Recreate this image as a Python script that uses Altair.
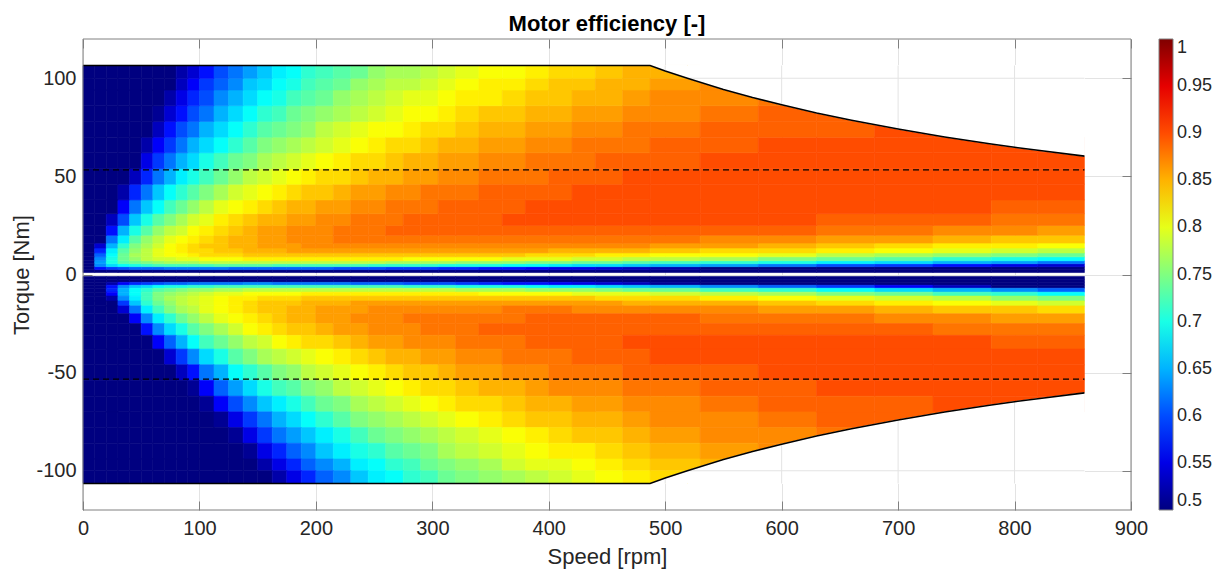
import altair as alt
import pandas as pd

# ---------------- data ----------------
# speed band edges [rpm] of the efficiency grid
SPEED_EDGES = [0, 10, 20, 30, 40, 50, 60, 70, 80, 90, 100,
               112.5, 125, 137.5, 150, 162.5, 175, 187.5, 200,
               215, 230, 245, 260, 275, 290, 305, 320,
               340, 360, 380, 400, 420, 440, 463.5, 487,
               530, 580, 630, 680, 730, 780, 820, 860]
# torque band edges [Nm] (magnitude; same bands for motoring and generating)
TORQUE_EDGES = [1, 2.5, 4, 5.5, 7, 9, 11, 13.5, 16, 20, 25, 31, 38, 46, 54,
                62, 70, 78, 86, 94, 100, 106.5]

N = None
# efficiency [%] for positive torque: one row per torque band (low -> high),
# one value per speed band (low -> high); None = outside the operating envelope
EFF_MOTOR = [
    [50, 50, 50, 50, 50, 50, 50, 50, 50, 50, 50, 50, 50, 50, 50, 50, 50, 50, 50, 50, 50, 50, 50, 50, 50, 50, 50, 50, 50, 50, 50, 50, 50, 50, 50, 50, 50, 50, 50, 50, 50, 50],
    [50, 57, 59, 60, 61, 61, 61, 62, 62, 62, 62, 62, 61, 61, 61, 61, 61, 61, 61, 60, 60, 60, 59, 59, 59, 58, 58, 57, 57, 56, 55, 55, 54, 53, 52, 50, 50, 50, 50, 50, 50, 50],
    [50, 63, 67, 69, 70, 71, 72, 72, 72, 72, 72, 73, 73, 73, 73, 72, 72, 72, 72, 72, 72, 71, 71, 71, 71, 70, 70, 70, 69, 69, 68, 67, 67, 66, 65, 64, 62, 60, 59, 57, 55, 54],
    [50, 64, 70, 73, 74, 75, 76, 77, 77, 77, 78, 78, 78, 78, 78, 78, 78, 78, 78, 78, 78, 78, 77, 77, 77, 77, 76, 76, 76, 75, 75, 74, 74, 73, 72, 71, 70, 68, 67, 65, 64, 62],
    [50, 63, 70, 74, 76, 78, 79, 79, 80, 80, 81, 81, 81, 82, 82, 82, 82, 82, 82, 82, 82, 82, 82, 81, 81, 81, 81, 81, 80, 80, 80, 79, 79, 78, 78, 77, 75, 74, 73, 71, 70, 69],
    [50, 61, 69, 74, 77, 78, 80, 81, 81, 82, 83, 83, 83, 84, 84, 84, 84, 84, 84, 84, 84, 84, 84, 84, 84, 84, 84, 84, 84, 83, 83, 83, 82, 82, 81, 81, 80, 78, 77, 76, 75, 74],
    [50, 58, 68, 73, 76, 78, 80, 81, 82, 83, 83, 84, 84, 85, 85, 85, 86, 86, 86, 86, 86, 86, 86, 86, 86, 86, 86, 86, 86, 86, 85, 85, 85, 85, 84, 83, 83, 82, 81, 80, 79, 78],
    [50, 54, 65, 71, 75, 77, 79, 81, 82, 83, 84, 84, 85, 85, 86, 86, 86, 87, 87, 87, 87, 87, 87, 87, 87, 87, 87, 87, 87, 87, 87, 87, 87, 87, 86, 86, 85, 84, 83, 82, 82, 81],
    [50, 50, 62, 68, 73, 76, 78, 80, 81, 82, 83, 84, 85, 85, 86, 86, 87, 87, 87, 88, 88, 88, 88, 88, 88, 88, 88, 88, 88, 88, 88, 88, 88, 88, 88, 87, 87, 86, 86, 85, 84, 84],
    [50, 50, 57, 65, 70, 73, 76, 78, 79, 81, 82, 83, 84, 85, 86, 86, 87, 87, 87, 88, 88, 88, 89, 89, 89, 89, 89, 89, 89, 89, 89, 89, 89, 89, 89, 89, 89, 88, 88, 87, 87, 86],
    [50, 50, 53, 60, 66, 70, 73, 75, 77, 79, 80, 82, 83, 84, 85, 85, 86, 86, 87, 87, 88, 88, 88, 89, 89, 89, 89, 89, 90, 90, 90, 90, 90, 90, 90, 90, 90, 89, 89, 89, 88, 88],
    [50, 50, 50, 56, 62, 66, 69, 72, 74, 76, 78, 80, 81, 82, 83, 84, 85, 85, 86, 86, 87, 87, 88, 88, 88, 89, 89, 89, 89, 90, 90, 90, 90, 90, 90, 90, 90, 90, 90, 90, 89, 89],
    [50, 50, 50, 52, 58, 62, 66, 69, 71, 73, 75, 77, 79, 80, 81, 82, 83, 84, 84, 85, 86, 86, 87, 87, 88, 88, 88, 89, 89, 89, 89, 90, 90, 90, 90, 90, 90, 90, 90, 90, 90, 90],
    [50, 50, 50, 50, 53, 58, 62, 65, 68, 70, 72, 74, 76, 78, 79, 80, 81, 82, 83, 83, 84, 85, 85, 86, 86, 87, 87, 88, 88, 88, 89, 89, 89, 90, 90, 90, 90, 90, 90, 90, 90, 90],
    [50, 50, 50, 50, 50, 55, 59, 62, 65, 67, 70, 72, 74, 75, 77, 78, 79, 80, 81, 82, 83, 83, 84, 85, 85, 86, 86, 87, 87, 88, 88, 88, 89, 89, 89, 90, 90, 90, 90, 90, 90, 90],
    [50, 50, 50, 50, 50, 52, 56, 59, 62, 65, 67, 69, 71, 73, 75, 76, 77, 78, 79, 80, 81, 82, 83, 83, 84, 85, 85, 86, 86, 87, 87, 88, 88, 88, 89, 89, 90, 90, 90, 90, 90, 90],
    [50, 50, 50, 50, 50, 50, 53, 57, 60, 62, 65, 67, 69, 71, 73, 74, 75, 76, 78, 79, 80, 81, 81, 82, 83, 83, 84, 85, 85, 86, 86, 87, 87, 88, 88, 89, 89, 89, 90, 90, N, N],
    [50, 50, 50, 50, 50, 50, 51, 54, 57, 60, 62, 65, 67, 69, 71, 72, 74, 75, 76, 77, 78, 79, 80, 81, 81, 82, 83, 84, 84, 85, 85, 86, 86, 87, 87, 88, 89, 89, N, N, N, N],
    [50, 50, 50, 50, 50, 50, 50, 52, 55, 58, 60, 63, 65, 67, 69, 70, 72, 73, 74, 76, 77, 78, 79, 80, 80, 81, 82, 82, 83, 84, 84, 85, 85, 86, 87, 87, 88, N, N, N, N, N],
    [50, 50, 50, 50, 50, 50, 50, 50, 53, 56, 59, 61, 63, 66, 67, 69, 70, 72, 73, 74, 76, 77, 78, 78, 79, 80, 81, 82, 82, 83, 84, 84, 85, 85, 86, 87, N, N, N, N, N, N],
    [50, 50, 50, 50, 50, 50, 50, 50, 52, 54, 57, 60, 62, 64, 66, 68, 69, 71, 72, 73, 74, 76, 77, 77, 78, 79, 80, 81, 81, 82, 83, 83, 84, 85, 85, N, N, N, N, N, N, N],
]

# efficiency [%] for negative torque (generating), same layout, |T| low -> high
EFF_GENERATOR = [
    [50, 50, 50, 50, 50, 50, 50, 50, 50, 50, 50, 50, 50, 50, 50, 50, 50, 50, 50, 50, 50, 50, 50, 50, 50, 50, 50, 50, 50, 50, 50, 50, 50, 50, 50, 50, 50, 50, 50, 50, 50, 50],
    [50, 50, 50, 50, 50, 50, 50, 50, 50, 50, 50, 50, 50, 50, 50, 50, 50, 50, 50, 50, 50, 50, 50, 50, 50, 50, 50, 50, 50, 50, 50, 50, 50, 50, 50, 50, 50, 50, 50, 50, 50, 50],
    [50, 50, 52, 56, 58, 59, 60, 61, 61, 62, 62, 62, 62, 63, 63, 62, 62, 62, 62, 62, 61, 61, 61, 60, 60, 60, 59, 58, 57, 57, 56, 55, 54, 53, 51, 50, 50, 50, 50, 50, 50, 50],
    [50, 50, 57, 63, 66, 67, 69, 70, 70, 71, 71, 72, 72, 72, 72, 72, 72, 72, 72, 72, 72, 72, 72, 71, 71, 71, 70, 70, 70, 69, 68, 68, 67, 66, 65, 63, 61, 59, 56, 53, 50, 50],
    [50, 50, 58, 65, 69, 71, 73, 74, 75, 76, 76, 77, 77, 78, 78, 78, 78, 78, 78, 78, 78, 78, 78, 78, 78, 78, 77, 77, 77, 76, 76, 76, 75, 74, 74, 72, 71, 69, 67, 65, 63, 61],
    [50, 50, 56, 65, 69, 72, 75, 76, 77, 78, 79, 80, 80, 81, 81, 81, 81, 82, 82, 82, 82, 82, 82, 82, 82, 82, 82, 81, 81, 81, 81, 80, 80, 80, 79, 78, 77, 75, 74, 72, 71, 69],
    [50, 50, 52, 63, 68, 72, 75, 77, 78, 79, 80, 81, 82, 82, 83, 83, 83, 84, 84, 84, 84, 84, 84, 84, 84, 84, 84, 84, 84, 84, 84, 84, 83, 83, 83, 82, 81, 80, 79, 78, 76, 75],
    [50, 50, 50, 59, 66, 71, 74, 76, 78, 79, 80, 81, 82, 83, 84, 84, 84, 85, 85, 85, 86, 86, 86, 86, 86, 86, 86, 86, 86, 86, 86, 86, 86, 85, 85, 85, 84, 83, 82, 81, 80, 79],
    [50, 50, 50, 54, 62, 68, 72, 75, 77, 78, 80, 81, 82, 83, 84, 84, 85, 85, 86, 86, 86, 87, 87, 87, 87, 87, 87, 87, 88, 88, 88, 87, 87, 87, 87, 87, 86, 86, 85, 84, 84, 83],
    [50, 50, 50, 50, 56, 63, 68, 71, 74, 76, 78, 80, 81, 82, 83, 84, 85, 85, 86, 86, 87, 87, 87, 88, 88, 88, 88, 88, 88, 89, 89, 89, 89, 89, 89, 88, 88, 88, 87, 87, 86, 86],
    [50, 50, 50, 50, 50, 57, 63, 67, 70, 73, 75, 77, 79, 81, 82, 83, 84, 84, 85, 86, 86, 87, 87, 87, 88, 88, 88, 89, 89, 89, 89, 89, 89, 89, 89, 89, 89, 89, 89, 88, 88, 88],
    [50, 50, 50, 50, 50, 50, 56, 61, 65, 69, 72, 74, 76, 78, 79, 81, 82, 83, 83, 84, 85, 86, 86, 87, 87, 87, 88, 88, 88, 89, 89, 89, 89, 90, 90, 90, 90, 90, 90, 90, 89, 89],
    [50, 50, 50, 50, 50, 50, 50, 54, 59, 63, 67, 70, 73, 75, 77, 78, 79, 80, 81, 82, 83, 84, 85, 85, 86, 86, 87, 87, 88, 88, 88, 89, 89, 89, 90, 90, 90, 90, 90, 90, 90, 90],
    [50, 50, 50, 50, 50, 50, 50, 50, 53, 57, 62, 65, 69, 71, 73, 75, 76, 78, 79, 80, 81, 82, 83, 84, 84, 85, 86, 86, 87, 87, 88, 88, 88, 89, 89, 89, 90, 90, 90, 90, 90, 90],
    [50, 50, 50, 50, 50, 50, 50, 50, 50, 51, 56, 61, 64, 67, 70, 72, 73, 75, 76, 78, 79, 80, 81, 82, 83, 83, 84, 85, 85, 86, 87, 87, 87, 88, 88, 89, 89, 90, 90, 90, 90, 90],
    [50, 50, 50, 50, 50, 50, 50, 50, 50, 50, 51, 56, 60, 63, 66, 68, 70, 72, 74, 75, 77, 78, 79, 80, 81, 82, 83, 83, 84, 85, 85, 86, 86, 87, 87, 88, 89, 89, 89, 90, 90, 90],
    [50, 50, 50, 50, 50, 50, 50, 50, 50, 50, 50, 51, 55, 59, 62, 65, 67, 69, 71, 73, 75, 76, 77, 78, 79, 80, 81, 82, 83, 84, 84, 85, 85, 86, 87, 87, 88, 89, 89, 89, N, N],
    [50, 50, 50, 50, 50, 50, 50, 50, 50, 50, 50, 50, 51, 55, 59, 62, 64, 66, 68, 70, 72, 74, 75, 76, 77, 78, 79, 80, 81, 82, 83, 84, 84, 85, 86, 87, 87, 88, N, N, N, N],
    [50, 50, 50, 50, 50, 50, 50, 50, 50, 50, 50, 50, 50, 51, 55, 58, 61, 63, 66, 68, 70, 71, 73, 74, 75, 77, 78, 79, 80, 81, 82, 82, 83, 84, 85, 86, 87, N, N, N, N, N],
    [50, 50, 50, 50, 50, 50, 50, 50, 50, 50, 50, 50, 50, 50, 52, 55, 58, 61, 63, 65, 68, 69, 71, 72, 74, 75, 76, 77, 79, 80, 80, 81, 82, 83, 84, 85, N, N, N, N, N, N],
    [50, 50, 50, 50, 50, 50, 50, 50, 50, 50, 50, 50, 50, 50, 50, 52, 55, 58, 61, 63, 66, 68, 69, 71, 72, 74, 75, 76, 77, 78, 79, 80, 81, 82, 83, N, N, N, N, N, N, N],
]

# operating envelope: peak torque up to base speed, then constant power
PEAK_TORQUE = 106.5
MAX_SPEED = 860
CP_SPEED = [487, 500, 519, 550, 575, 600, 630, 660, 700, 740, 780, 800, 820, 860]
CP_TORQUE = [106.5, 103.7, 100.0, 94.3, 90.2, 86.5, 82.3, 78.6, 74.1, 70.1, 66.5, 64.8, 63.3, 60.3]
RATED_TORQUE = [53.3, -53.3]

X_TICKS = [0, 100, 200, 300, 400, 500, 600, 700, 800, 900]
Y_TICKS = [-100, -50, 0, 50, 100]
CBAR_TICKS = [0.5, 0.55, 0.6, 0.65, 0.7, 0.75, 0.8, 0.85, 0.9, 0.95, 1.0]
JET_STOPS = [0.5, 0.5625, 0.6875, 0.8125, 0.9375, 1.0]
JET_COLORS = ["#000080", "#0000ff", "#00ffff", "#ffff00", "#ff0000", "#800000"]

# ---------------- tables ----------------
cells = []
for i in range(len(TORQUE_EDGES) - 1):
    for j in range(len(SPEED_EDGES) - 1):
        for sgn, table in ((1, EFF_MOTOR), (-1, EFF_GENERATOR)):
            v = table[i][j]
            if v is None:
                continue
            cells.append({"n0": SPEED_EDGES[j], "n1": SPEED_EDGES[j + 1],
                          "t0": sgn * TORQUE_EDGES[i], "t1": sgn * TORQUE_EDGES[i + 1],
                          "eff": v / 100.0})
heat_df = pd.DataFrame(cells)

line_rows, mask_rows = [], []
for sgn, side in ((1, "top"), (-1, "bottom")):
    pts = [(0, PEAK_TORQUE)] + list(zip(CP_SPEED, CP_TORQUE))
    for k, (n, t) in enumerate(pts):
        line_rows.append({"side": side, "order": k, "n": n, "t": sgn * t})
    for n, t in zip(CP_SPEED, CP_TORQUE):
        mask_rows.append({"side": side, "n": n, "t": sgn * t, "lim": sgn * PEAK_TORQUE})
line_df = pd.DataFrame(line_rows)
mask_top = pd.DataFrame([r for r in mask_rows if r["side"] == "top"])
mask_bot = pd.DataFrame([r for r in mask_rows if r["side"] == "bottom"])

patch = []
for n, t in zip(CP_SPEED, CP_TORQUE):
    if n in X_TICKS:
        for sgn in (1, -1):
            patch.append({"n0": n, "n1": n, "t0": sgn * t, "t1": sgn * PEAK_TORQUE})
for yt in Y_TICKS:
    if yt > 0 and float(yt) in CP_TORQUE:
        ncross = CP_SPEED[CP_TORQUE.index(float(yt))]
        for sgn in (1, -1):
            patch.append({"n0": ncross, "n1": MAX_SPEED, "t0": sgn * yt, "t1": sgn * yt})
patch_df = pd.DataFrame(patch)

rated_df = pd.DataFrame({"t": RATED_TORQUE})
one_df = pd.DataFrame({"k": [0]})

# ---------------- style ----------------
FONT = "Liberation Sans"
TXT = "#262626"
FRAME = "#808080"
GRID = "#e3e3e3"

XS = alt.Scale(domain=[0, 900], nice=False, zero=False)
YS = alt.Scale(domain=[-120, 120], nice=False, zero=False)
CS = alt.Scale(domain=JET_STOPS, range=JET_COLORS, interpolate="rgb", clamp=True)

x_axis = alt.Axis(values=X_TICKS, title="Speed [rpm]", grid=True, gridColor=GRID,
                  domain=False, ticks=True, tickSize=9, tickColor=FRAME, offset=-9,
                  labelExpr="'' + datum.value", labelFlush=False,
                  labelFont=FONT, labelFontSize=20, labelColor=TXT, labelPadding=8,
                  titleFont=FONT, titleFontSize=22, titleFontWeight="normal",
                  titleColor=TXT, titlePadding=8, zindex=0)
y_axis = alt.Axis(values=Y_TICKS, title="Torque [Nm]", grid=True, gridColor=GRID,
                  domain=False, ticks=True, tickSize=9, tickColor=FRAME, offset=-9,
                  labelExpr="'' + datum.value", labelFlush=False,
                  labelFont=FONT, labelFontSize=20, labelColor=TXT, labelPadding=7,
                  titleFont=FONT, titleFontSize=22, titleFontWeight="normal",
                  titleColor=TXT, titlePadding=2, zindex=0)
top_axis = alt.Axis(orient="top", values=X_TICKS, labels=False, ticks=True, tickSize=9,
                    tickColor=FRAME, offset=-9, domain=False, grid=False, title=None, zindex=0)
right_axis = alt.Axis(orient="right", values=Y_TICKS, labels=False, ticks=True, tickSize=9,
                      tickColor=FRAME, offset=-9, domain=False, grid=False, title=None, zindex=0)


def mask_layer(df):
    return alt.Chart(df).mark_area(color="white", stroke="white", strokeWidth=1,
                                   opacity=1).encode(
        x=alt.X("n:Q", scale=XS, axis=None),
        y=alt.Y("t:Q", scale=YS, axis=None, stack=None),
        y2="lim:Q",
    )


patches = alt.Chart(patch_df).mark_rule(color=GRID, strokeWidth=1).encode(
    x=alt.X("n0:Q", scale=XS, axis=None), x2="n1:Q",
    y=alt.Y("t0:Q", scale=YS, axis=None), y2="t1:Q",
)

rated = alt.Chart(rated_df).mark_rule(color="black", strokeWidth=1.3, strokeDash=[6, 4]).encode(
    x=alt.X(datum=0, scale=XS, axis=None),
    x2=alt.datum(MAX_SPEED),
    y=alt.Y("t:Q", scale=YS, axis=None),
)

boundary = alt.Chart(line_df).mark_line(color="black", strokeWidth=1.6).encode(
    x=alt.X("n:Q", scale=XS, axis=None),
    y=alt.Y("t:Q", scale=YS, axis=None),
    detail="side:N",
    order="order:Q",
)

frame = alt.Chart(one_df).mark_rect(fillOpacity=0, stroke=FRAME, strokeWidth=1).encode(
    x=alt.X(datum=0, scale=XS, axis=top_axis),
    x2=alt.datum(900),
    y=alt.Y(datum=-120, scale=YS, axis=right_axis),
    y2=alt.datum(120),
)


def build(label_encode):
    legend_kw = dict(
        type="gradient", orient="none", legendX=1076, legendY=0, direction="vertical",
        gradientLength=471, gradientThickness=14, title=None, values=CBAR_TICKS,
        format=".2~f", labelFont=FONT, labelFontSize=18, labelColor=TXT,
        labelOffset=4, labelBaseline="middle", labelOverlap=False,
        gradientStrokeColor=FRAME, gradientStrokeWidth=1)
    if label_encode is not None:
        legend_kw["encode"] = label_encode
    # cell outline drawn in the cell's own colour (hides hairline seams between cells)
    heat = alt.Chart(heat_df).mark_rect(
        strokeWidth=0.6, stroke=alt.expr("scale('color', datum.eff)")
    ).encode(
        x=alt.X("n0:Q", scale=XS, axis=x_axis),
        x2="n1:Q",
        y=alt.Y("t0:Q", scale=YS, axis=y_axis),
        y2="t1:Q",
        color=alt.Color("eff:Q", scale=CS, legend=alt.Legend(**legend_kw)),
    )
    return alt.layer(heat, mask_layer(mask_top), mask_layer(mask_bot), patches, rated,
                     boundary, frame).resolve_axis(
        x="independent", y="independent"
    ).properties(
        width=1048, height=471,
        title=alt.TitleParams("Motor efficiency [-]", font=FONT, fontSize=22,
                              fontWeight="bold", color="black", anchor="middle", offset=3),
        padding={"left": 75, "top": 31, "right": 84, "bottom": 62},
        autosize=alt.AutoSizeParams(type="none"),
    ).configure_view(stroke=None)


# colorbar end labels centred on the bar ends, as in the original
options = [
    {"labels": {"baseline": {"value": "middle"}}},
    {"labels": {"update": {"baseline": {"value": "middle"}}}},
    None,
]
for opt in options:
    try:
        chart = build(opt)
        chart.to_dict()
        break
    except Exception:
        continue

chart.save("out.html", embed_options={"renderer": "svg", "actions": False})
